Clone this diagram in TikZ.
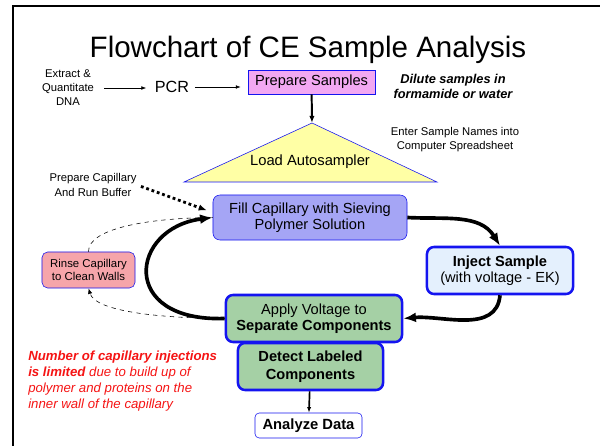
\documentclass[tikz,border=0pt]{standalone}
\usepackage{fontspec}
\setmainfont{Liberation Sans}
\usetikzlibrary{arrows.meta, calc}
\definecolor{boxblue}{RGB}{20, 20, 240}
\definecolor{prepbg}{RGB}{242, 168, 242}
\definecolor{fillbg}{RGB}{165, 165, 245}
\definecolor{injectbg}{RGB}{228, 240, 253}
\definecolor{runbg}{RGB}{165, 208, 165}
\definecolor{rinsebg}{RGB}{246, 165, 170}
\definecolor{loadbg}{RGB}{255, 255, 165}
\definecolor{warnred}{RGB}{245, 20, 20}

\begin{document}
\begin{tikzpicture}[x=0.025cm, y=-0.025cm,
      box/.style={draw=boxblue, align=center, inner sep=0pt,
                  font=\fontsize{10.4}{11.6}\selectfont},
      note/.style={align=center, inner sep=0pt,
                   font=\fontsize{8}{10}\selectfont},
      flow/.style={line width=2.6pt, -{Latex[length=9pt, width=7pt]}},
      rinseline/.style={dashed, thin},
  ]
  \useasboundingbox (0,0) rectangle (600,446);
  % slide frame
  \draw[line width=1.8pt] (13,446) -- (13,6) -- (600,6);

  \node[anchor=base, font=\fontsize{21}{25}\selectfont] (title)
      at (308,58) {Flowchart of CE Sample Analysis};

  % top row
  \node[note] (extract) at (68,88) {Extract \&\\Quantitate\\DNA};
  \node[inner sep=0pt, font=\fontsize{11.5}{13}\selectfont] (pcr)
      at (172,87) {PCR};
  \node[box, fill=prepbg, thin, minimum width=3.175cm,
        minimum height=0.6cm] (prep) at (311.5,82) {Prepare Samples};
  \node[align=center, inner sep=0pt,
        font=\fontsize{9.1}{10.7}\selectfont\bfseries\itshape] (dilute)
      at (453,86) {Dilute samples in\\formamide or water};
  \draw[thin, -{Latex[length=3.5pt]}, shorten <=7pt, shorten >=6pt]
      (extract) -- (extract -| pcr.west);
  \draw[thin, -{Latex[length=3.5pt]}, shorten <=4pt, shorten >=5pt]
      (pcr) -- (pcr -| prep.west);

  % autosampler
  \draw[draw=boxblue, fill=loadbg, thin]
      (312,123) -- (437,182) -- (184,182) -- cycle;
  \coordinate (loadtop) at (312,123);
  \node[inner sep=0pt, font=\fontsize{10.5}{12}\selectfont] (load)
      at (310,162) {Load Autosampler};
  \draw[line width=1.4pt, -{Latex[length=5pt]}] (prep) -- (loadtop);
  \node[note] (names) at (455,140)
      {Enter Sample Names into\\Computer Spreadsheet};

  % capillary cycle
  \node[box, fill=fillbg, thin, rounded corners=5pt,
        minimum width=4.85cm, minimum height=1.125cm] (fill)
      at (310,217.5) {Fill Capillary with Sieving\\Polymer Solution};
  \node[box, fill=injectbg, line width=1.8pt, rounded corners=5pt,
        minimum width=3.65cm, minimum height=1.175cm] (inject)
      at (500,270.5) {\textbf{Inject Sample}\\(with voltage - EK)};
  \node[box, fill=runbg, line width=1.8pt, rounded corners=5pt,
        minimum width=4.4cm, minimum height=1.175cm] (apply)
      at (314,318.5) {Apply Voltage to\\\textbf{Separate Components}};
  \node[box, fill=runbg, line width=1.8pt, rounded corners=5pt,
        minimum width=3.625cm, minimum height=1.175cm,
        font=\fontsize{10.4}{12.6}\selectfont\bfseries] (detect)
      at (310.5,366.5) {Detect Labeled\\Components};
  \node[box, fill=white, thin, rounded corners=3pt,
        minimum width=2.675cm, minimum height=0.625cm,
        font=\fontsize{10.5}{12}\selectfont\bfseries] (analyze)
      at (308.5,425.5) {Analyze Data};
  \node[box, fill=rinsebg, thin, rounded corners=4pt,
        minimum width=2.325cm, minimum height=0.9cm,
        font=\fontsize{8.1}{9.6}\selectfont] (rinse)
      at (88.5,270) {Rinse Capillary\\to Clean Walls};
  \node[note] (buffer) at (93,185) {Prepare Capillary\\And Run Buffer};

  \draw[flow] (fill.east) to[out=-3, in=122] (inject.north);
  \draw[flow] (inject.south) to[out=-95, in=5] (apply.east);
  \draw[flow] (apply.west) .. controls (118,322) and (130,228) ..
      (fill.west);
  \draw[rinseline, -{Latex[length=4pt]}] (apply.west)
      .. controls (150,318) and (95,310) .. (rinse.south);
  \draw[rinseline] (rinse.north) .. controls (88,228) and (150,218) ..
      (fill.west);
  \draw[line width=2pt, dotted, -{Latex[length=6pt]}]
      ([xshift=3pt, yshift=-1pt]buffer.east)
      -- ([xshift=-4pt, yshift=5pt]fill.west);
  \draw[line width=1.2pt, -{Latex[length=4pt]}] (detect) -- (analyze);

  \node[anchor=west, align=left, inner sep=0pt, text=warnred,
        font=\fontsize{9.4}{11.2}\selectfont\itshape] (limit)
      at (28,381) {\textbf{Number of capillary injections}\\
                   \textbf{is limited} due to build up of\\
                   polymer and proteins on the\\
                   inner wall of the capillary};
\end{tikzpicture}
\end{document}
